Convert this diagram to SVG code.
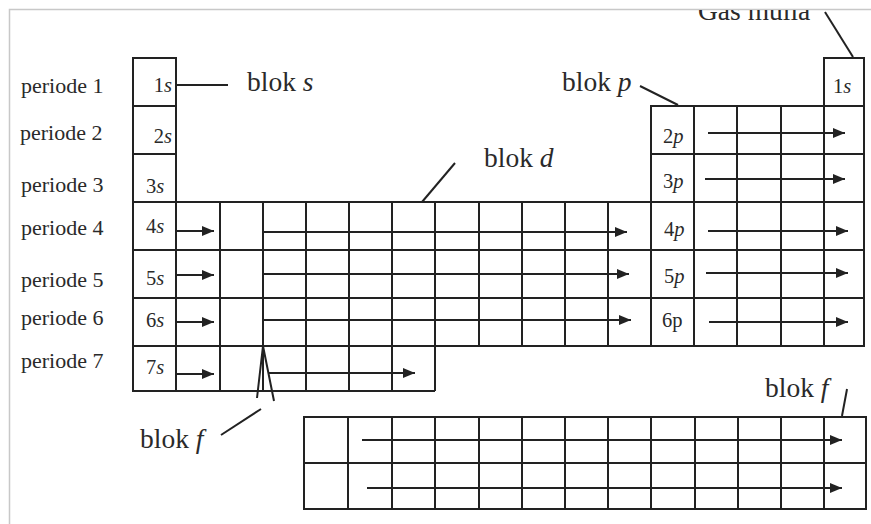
<svg xmlns="http://www.w3.org/2000/svg" width="871" height="524" viewBox="0 0 871 524">
<style>
.c{fill:none;stroke:#222;stroke-width:2}
.a{fill:none;stroke:#222;stroke-width:2;marker-end:url(#ah)}
.l{fill:none;stroke:#222;stroke-width:2}
.t{font-family:"Liberation Serif","Times New Roman",serif;fill:#2a2a2a}
.per{font-size:22px}
.cl{font-size:20.5px}
.bl{font-size:27.5px}
.i{font-style:italic}
</style>
<defs>
<marker id="ah" markerUnits="userSpaceOnUse" markerWidth="13" markerHeight="11" refX="12" refY="5" orient="auto">
<path d="M0,0 L12,5 L0,10 z" fill="#222"/>
</marker>
<clipPath id="top"><rect x="0" y="10" width="871" height="514"/></clipPath>
</defs>
<rect width="871" height="524" fill="#fff"/>
<path d="M9.5,524 V9.5 H871" fill="none" stroke="#c8c8c8" stroke-width="1.5"/>

<g id="s-block">
<rect class="c" x="133" y="58" width="43" height="48"/>
<rect class="c" x="133" y="106" width="43" height="48"/>
<rect class="c" x="133" y="154" width="43" height="48"/>
<rect class="c" x="133" y="202" width="43" height="48"/>
<rect class="c" x="133" y="250" width="43" height="48"/>
<rect class="c" x="133" y="298" width="43" height="48"/>
<rect class="c" x="133" y="346" width="43" height="45"/>
<rect class="c" x="176" y="202" width="44" height="48"/>
<rect class="c" x="176" y="250" width="44" height="48"/>
<rect class="c" x="176" y="298" width="44" height="48"/>
<rect class="c" x="176" y="346" width="44" height="45"/>
<text class="t cl" x="172" y="92" text-anchor="end">1<tspan class="i">s</tspan></text>
<text class="t cl" x="172" y="143" text-anchor="end">2<tspan class="i">s</tspan></text>
<text class="t cl" x="146" y="193">3<tspan class="i">s</tspan></text>
<text class="t cl" x="146" y="233">4<tspan class="i">s</tspan></text>
<text class="t cl" x="146" y="285">5<tspan class="i">s</tspan></text>
<text class="t cl" x="146" y="327">6<tspan class="i">s</tspan></text>
<text class="t cl" x="146" y="374">7<tspan class="i">s</tspan></text>
</g>

<g id="d-block">
<path class="c" d="M220,202 H651 M220,250 H651 M220,298 H651 M220,346 H651 M220,391 H435
M220,202 V391 M263,202 V391 M306,202 V391 M349,202 V391 M392,202 V391 M435,202 V391
M479,202 V346 M522,202 V346 M565,202 V346 M608,202 V346"/>
</g>

<g id="p-block">
<rect class="c" x="651" y="106" width="213" height="240"/>
<path class="c" d="M651,154 H864 M651,202 H864 M651,250 H864 M651,298 H864
M694,106 V346 M737,106 V346 M781,106 V346 M824,106 V346"/>
<text class="t cl" x="663" y="143">2<tspan class="i">p</tspan></text>
<text class="t cl" x="663" y="188">3<tspan class="i">p</tspan></text>
<text class="t cl" x="664" y="236">4<tspan class="i">p</tspan></text>
<text class="t cl" x="664" y="283">5<tspan class="i">p</tspan></text>
<text class="t cl" x="662" y="327">6p</text>
</g>

<g id="helium">
<rect class="c" x="824" y="58" width="40" height="48"/>
<text class="t cl" x="833" y="93">1<tspan class="i">s</tspan></text>
</g>

<g id="f-block">
<rect class="c" x="304" y="417" width="562" height="92"/>
<path class="c" d="M304,463 H866 M348,417 V509 M392,417 V509 M435,417 V509 M479,417 V509 M522,417 V509 M565,417 V509 M608,417 V509 M651,417 V509 M695,417 V509 M738,417 V509 M781,417 V509 M824,417 V509"/>
</g>

<g id="period-labels">
<text class="t per" x="21" y="93">periode 1</text>
<text class="t per" x="20" y="140">periode 2</text>
<text class="t per" x="21" y="192">periode 3</text>
<text class="t per" x="21" y="235">periode 4</text>
<text class="t per" x="21" y="287">periode 5</text>
<text class="t per" x="21" y="325">periode 6</text>
<text class="t per" x="21" y="368">periode 7</text>
</g>

<g id="block-labels">
<text class="t bl" x="247" y="91">blok <tspan class="i">s</tspan></text>
<text class="t bl" x="562" y="91">blok <tspan class="i">p</tspan></text>
<text class="t bl" x="484" y="167">blok <tspan class="i">d</tspan></text>
<text class="t bl" x="698" y="20" clip-path="url(#top)">Gas mulia</text>
<text class="t bl" x="140" y="448">blok <tspan class="i">f</tspan></text>
<text class="t bl" x="765" y="397">blok <tspan class="i">f</tspan></text>
</g>

<g id="connectors">
<line class="a" x1="176" y1="231" x2="214" y2="231"/>
<line class="a" x1="176" y1="275" x2="214" y2="275"/>
<line class="a" x1="176" y1="322" x2="214" y2="322"/>
<line class="a" x1="176" y1="374" x2="214" y2="374"/>
<line class="a" x1="263" y1="232" x2="627" y2="232"/>
<line class="a" x1="263" y1="274" x2="629" y2="274"/>
<line class="a" x1="263" y1="320" x2="631" y2="320"/>
<line class="a" x1="268" y1="373" x2="415" y2="373"/>
<line class="a" x1="708" y1="133" x2="845" y2="133"/>
<line class="a" x1="705" y1="179" x2="845" y2="179"/>
<line class="a" x1="708" y1="231" x2="848" y2="231"/>
<line class="a" x1="706" y1="273" x2="848" y2="273"/>
<line class="a" x1="709" y1="322" x2="848" y2="322"/>
<line class="a" x1="362" y1="440" x2="842" y2="440"/>
<line class="a" x1="367" y1="488" x2="842" y2="488"/>
<line class="l" x1="176" y1="85" x2="228" y2="85"/>
<line class="l" x1="640" y1="86" x2="678" y2="105"/>
<line class="l" x1="422" y1="202" x2="455" y2="163"/>
<line class="l" x1="825" y1="12" x2="853" y2="57"/>
<path class="l" d="M257,398 L263,346 L274,401"/>
<line class="l" x1="261" y1="409" x2="221" y2="435"/>
<line class="l" x1="847" y1="389" x2="842" y2="416"/>
</g>
</svg>
